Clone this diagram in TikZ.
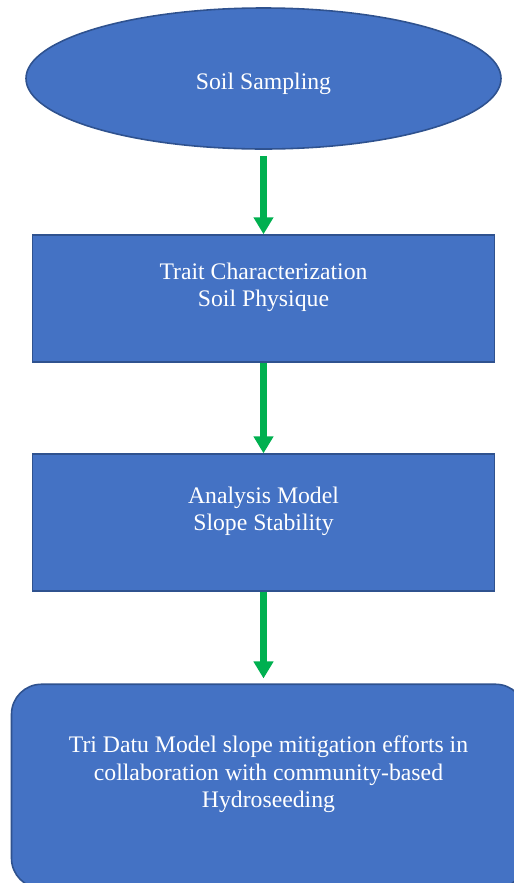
\documentclass[tikz,border=0pt]{standalone}
\usepackage{fontspec}
\setmainfont{Liberation Serif}
\usepackage{xcolor}
\usepackage{tikz}
\usetikzlibrary{arrows.meta,shapes.geometric,positioning}
\definecolor{boxblue}{HTML}{4472C4}
\definecolor{boxedge}{HTML}{2F528F}
\definecolor{arrowgreen}{HTML}{00B050}

\begin{document}
\begin{tikzpicture}[
  every node/.style={font=\fontsize{13.5}{15.5}\selectfont, text=white},
  oval/.style={draw=boxedge, fill=boxblue, line width=0.9pt, ellipse, inner sep=0pt, minimum width=9.5cm, minimum height=2.82cm, text height=0.53cm, text depth=0.1cm},
  stage/.style={draw=boxedge, fill=boxblue, line width=0.9pt, inner sep=0pt, minimum width=9.24cm},
  finalbox/.style={draw=boxedge, fill=boxblue, line width=0.9pt, rounded corners=0.6cm, inner sep=0pt, minimum width=10.28cm, minimum height=4.08cm},
  boxtext/.style={align=center},
  arr/.style={-{Triangle[width=0.38cm,length=0.34cm]}, arrowgreen, line width=3.6pt},
]
\useasboundingbox (0,0) rectangle (10.28,-17.66);
\clip (0,0) rectangle (10.28,-17.66);
\node[oval] (soil) at (5.27,-1.57) {Soil Sampling};
\node[stage, minimum height=2.54cm, below=1.69cm of soil] (trait) {};
\node[stage, minimum height=2.74cm, below=1.81cm of trait] (analysis) {};
\node[finalbox, below=1.83cm of analysis, xshift=0.1cm] (mitigation) {};
\node[boxtext] (traitText) at ([yshift=0.22cm]trait.center) {Trait Characterization\\Soil Physique};
\node[boxtext] (analysisText) at ([yshift=0.22cm]analysis.center) {Analysis Model\\Slope Stability};
\node[boxtext] (mitigationText) at ([yshift=0.24cm]mitigation.center) {Tri Datu Model slope mitigation efforts in\\collaboration with community-based\\Hydroseeding};
\draw[arr, shorten <=0.12cm] (soil.south) -- (trait.north);
\draw[arr] (trait.south) -- (analysis.north);
\draw[arr, shorten >=0.1cm] (analysis.south) -- (analysis.south |- mitigation.north);
\end{tikzpicture}
\end{document}
